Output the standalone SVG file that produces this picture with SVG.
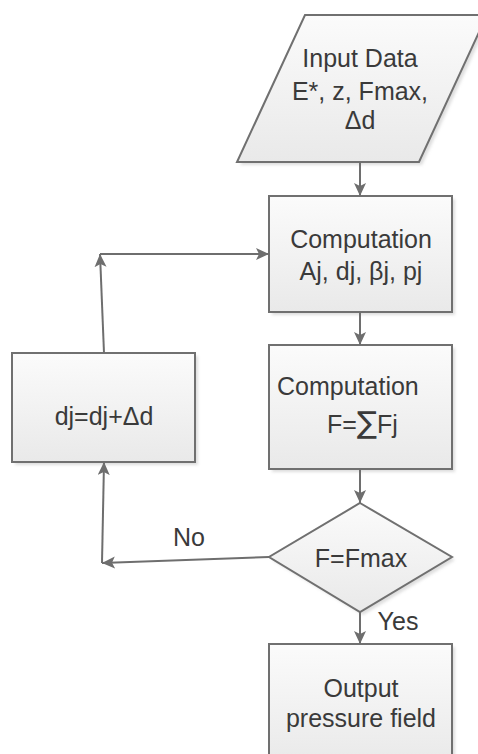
<svg xmlns="http://www.w3.org/2000/svg" width="478" height="754" viewBox="0 0 478 754">
<defs>
<linearGradient id="g" x1="0" y1="0" x2="0" y2="1">
<stop offset="0" stop-color="#fbfbfb"/>
<stop offset="1" stop-color="#e9e9e9"/>
</linearGradient>
<filter id="sh" x="-10%" y="-10%" width="130%" height="130%">
<feGaussianBlur stdDeviation="1.5"/>
</filter>
<marker id="ah" markerUnits="userSpaceOnUse" markerWidth="16" markerHeight="14" refX="13" refY="6" orient="auto">
<path d="M0,0 L13,6 L0,12 L3,6 Z" fill="#6e6e6e"/>
</marker>
</defs>
<style>
.shape{fill:url(#g);stroke:#707070;stroke-width:2}
.shadow{fill:#c8c8c8;opacity:0.6;filter:url(#sh)}
.t{font-family:"Liberation Sans",Arial,sans-serif;font-size:25px;fill:#3a3a3a;text-anchor:middle}
.c{fill:none;stroke:#6e6e6e;stroke-width:2;marker-end:url(#ah)}
</style>
<rect width="478" height="754" fill="#ffffff"/>
<g id="input">
<polygon class="shadow" points="308,18 490,18 422,165 240,165"/>
<polygon class="shape" points="305,15 487,15 419,162 237,162"/>
<text class="t" x="360" y="67">Input Data</text>
<text class="t" x="360" y="100">E*, z, Fmax,</text>
<text class="t" x="360" y="129">Δd</text>
</g>
<g id="comp1">
<rect class="shadow" x="272" y="199" width="183" height="116"/>
<rect class="shape" x="269" y="196" width="183" height="116"/>
<text class="t" x="361" y="248">Computation</text>
<text class="t" x="361" y="280">Aj, dj, βj, pj</text>
</g>
<g id="comp2">
<rect class="shadow" x="272" y="348" width="183" height="124"/>
<rect class="shape" x="269" y="345" width="183" height="124"/>
<text class="t" x="277" y="395" style="text-anchor:start">Computation</text>
<text class="t" x="327" y="433" style="text-anchor:start">F=<tspan font-size="30" font-family="'DejaVu Sans',sans-serif">∑</tspan>Fj</text>
</g>
<g id="update">
<rect class="shadow" x="15" y="356" width="183" height="109"/>
<rect class="shape" x="12" y="353" width="183" height="109"/>
<text class="t" x="104" y="425">dj=dj+Δd</text>
</g>
<g id="decision">
<polygon class="shadow" points="363,506 455,560 363,615 272,560"/>
<polygon class="shape" points="360,503 452,557 360,612 269,557"/>
<text class="t" x="361" y="567">F=Fmax</text>
</g>
<g id="output">
<rect class="shadow" x="272" y="647" width="183" height="120"/>
<rect class="shape" x="269" y="644" width="183" height="120"/>
<text class="t" x="361" y="697">Output</text>
<text class="t" x="361" y="727">pressure field</text>
</g>
<g id="connectors">
<line class="c" x1="360" y1="162" x2="360" y2="196"/>
<line class="c" x1="360" y1="312" x2="360" y2="345"/>
<line class="c" x1="360" y1="469" x2="360" y2="503"/>
<line class="c" x1="360" y1="612" x2="360" y2="644"/>
<line class="c" x1="269" y1="557" x2="102" y2="563"/>
<line class="c" x1="102" y1="563" x2="104" y2="462"/>
<line class="c" x1="104" y1="353" x2="100" y2="254"/>
<line class="c" x1="100" y1="254" x2="269" y2="254"/>
<text class="t" x="189" y="546">No</text>
<text class="t" x="398" y="630">Yes</text>
</g>
</svg>
